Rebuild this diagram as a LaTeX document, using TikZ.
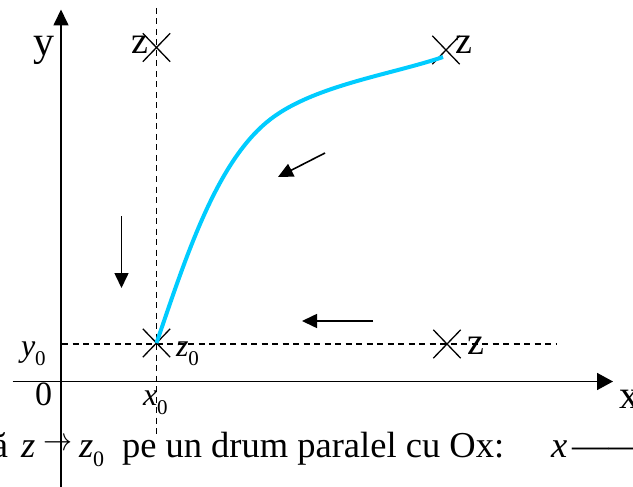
\documentclass[tikz,border=0pt]{standalone}
\usepackage{fontspec}
\usepackage{graphicx}
\setmainfont{Liberation Serif}
\usetikzlibrary{arrows.meta,shapes.misc}
\definecolor{curvecyan}{RGB}{0,204,255}
\newcommand{\fsz}[1]{\fontsize{#1}{#1}\selectfont}
\newcommand{\subz}{\raisebox{-0.3em}{\fsz{21}0}}
\begin{document}
\begin{tikzpicture}[x=1pt,y=-1pt,
  axisline/.style={line width=1.7pt,-{Triangle[length=16pt,width=15pt]}},
  guide/.style={line width=1.5pt, dash pattern=on 6pt off 4.5pt},
  crossnode/.style={cross out, draw, line width=1.3pt, minimum width=26pt, minimum height=27pt, inner sep=0pt},
  motion/.style={line width=1.6pt,-{Triangle[length=15pt,width=14pt]}},
  pathcurve/.style={line width=4pt, curvecyan},
  lbl/.style={inner sep=0pt, outer sep=0pt},
  zlbl/.style={lbl, font=\fsz{38}},
  bottomtxt/.style={lbl, font=\fsz{36.5}}
]
\useasboundingbox (0,0) rectangle (633,487);
% axes
\coordinate (yb) at (61,490);
\coordinate (yt) at (61,9.5);
\draw[axisline] (yb) -- (yt);
\coordinate (xl) at (12.5,381.5);
\coordinate (xr) at (613,381.5);
\draw[axisline,-{Triangle[length=16pt,width=17pt]}] (xl) -- (xr);
% guides
\coordinate (vt) at (156.5,8);
\coordinate (vb) at (156.5,438);
\draw[guide] (vt) -- (vb);
\coordinate (hl) at (62,344);
\coordinate (hr) at (557,344);
\draw[guide] (hl) -- (hr);
% crosses
\node[crossnode] (z0) at (156.5,343) {};
\node[crossnode] (ztl) at (156.5,47.5) {};
\node[crossnode] (ztr) at (446,50) {};
\node[crossnode] (zbr) at (447,344) {};
% curve
\coordinate (cmid) at (267,122);
\coordinate (cend) at (443,57);
\draw[pathcurve] (z0.center) .. controls (185,260) and (215,165) .. (cmid)
                 .. controls (310,86) and (390,75) .. (cend);
% motion arrows
\coordinate (a1s) at (121.5,216);
\coordinate (a1e) at (121.5,288);
\draw[motion] (a1s) -- (a1e);
\coordinate (a2s) at (373,321);
\coordinate (a2e) at (302,321);
\draw[motion] (a2s) -- (a2e);
\coordinate (a3s) at (325,153);
\coordinate (a3e) at (278,177);
\draw[motion] (a3s) -- (a3e);
% labels
\node[lbl, font=\fsz{42}, anchor=base west] (ylab) at (33,56) {y};
\node[lbl, font=\fsz{40}, anchor=base west] (xlab) at (619,408) {x};
\node[lbl, font=\fsz{34}, anchor=base] (olab) at (43.5,405) {0};
\node[zlbl, anchor=base west] (ztllab) at (131,54) {z};
\node[zlbl, anchor=base west] (ztrlab) at (455,54) {z};
\node[zlbl, anchor=base west] (zbrlab) at (467,354) {z};
\node[lbl, font=\fsz{32}, anchor=base west] (y0lab) at (21,356) {\textit{y}\subz};
\node[lbl, font=\fsz{32}, anchor=base west] (z0lab) at (176,356) {\textit{z}\subz};
\node[lbl, font=\fsz{32}, anchor=base west] (x0lab) at (143,405) {\textit{x}\subz};
% bottom text
\node[bottomtxt, anchor=base east] (ta) at (8,457) {ă};
\node[bottomtxt, anchor=base west] (tz) at (21,457) {\textit{z}};
\node[lbl, anchor=west] (tarr) at (43,444) {\resizebox{29pt}{12pt}{$\rightarrow$}};
\node[bottomtxt, anchor=base west] (tz0) at (79,457) {\textit{z}\raisebox{-0.25em}{\fsz{22}0}};
\node[bottomtxt, anchor=base west] (tmain) at (122,457) {pe un drum paralel cu Ox:};
\node[bottomtxt, anchor=base west] (tx) at (551,457) {\textit{x}};
\node[bottomtxt, anchor=base west] (tdash) at (572,457) {——};
\end{tikzpicture}
\end{document}
